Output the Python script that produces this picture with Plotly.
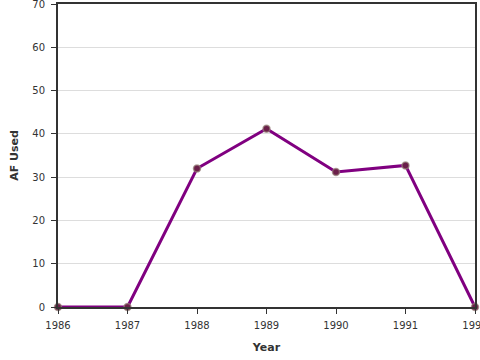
import plotly.graph_objects as go

years = [1986, 1987, 1988, 1989, 1990, 1991, 1992]
af_used = [0, 0, 32, 41.2, 31.2, 32.7, 0]

fig = go.Figure()
fig.add_trace(go.Scatter(
    x=years, y=af_used, mode="lines+markers",
    line=dict(color="#800080", width=3),
    marker=dict(size=7, color="#6b1f4a", line=dict(color="rgba(150,130,120,0.7)", width=1.5)),
    cliponaxis=False, showlegend=False,
))

axis_common = dict(
    showline=True, linecolor="#333333", linewidth=2, mirror=True,
    ticks="outside", ticklen=5, tickcolor="#333333", tickwidth=1,
    tickfont=dict(family="DejaVu Sans", size=10, color="#333333"),
    zeroline=False, automargin=False, ticklabeloverflow="allow",
)
fig.update_xaxes(range=[1986, 1992], tickvals=years, showgrid=False, ticklabelstandoff=3,
                 title=dict(text="<b>Year</b>", font=dict(family="DejaVu Sans", size=11, color="#333333"), standoff=13),
                 **axis_common)
fig.update_yaxes(range=[0, 70], dtick=10, showgrid=True, gridcolor="#dddddd", gridwidth=1, ticklabelstandoff=4,
                 title=dict(text="<b>AF Used</b>", font=dict(family="DejaVu Sans", size=11, color="#333333"), standoff=11),
                 **axis_common)
fig.update_layout(
    width=480, height=360,
    margin=dict(l=58, r=5, t=4, b=53),
    plot_bgcolor="white", paper_bgcolor="white",
)
fig.write_html("out.html", config={"displayModeBar": False},
               post_script="document.body.style.margin='0';document.body.style.overflow='hidden';")
